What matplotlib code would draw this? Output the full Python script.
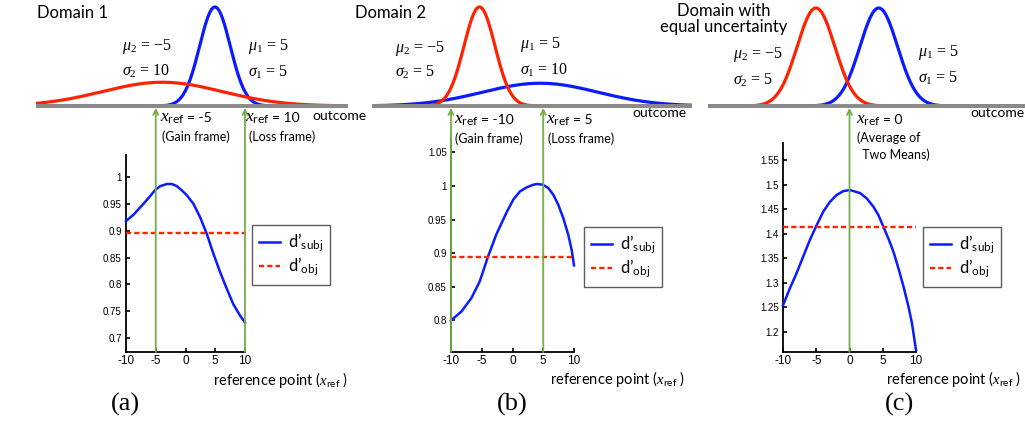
import numpy as np
import matplotlib
matplotlib.use('Agg')
import matplotlib.pyplot as plt
import matplotlib.transforms as mtransforms

W, H = 1025, 421

# distributions drawn on top: mean, drawn width, relative peak height
mu_a = [5, -5]
width_a = [2.9, 11.4]
peak_a = [1.0, 0.24]
mu_b = [5, -5]
width_b = [9.5, 2.55]
peak_b = [0.23, 1.0]
mu_c = [5, -5]
width_c = [3.0, 3.0]
peak_c = [0.99, 0.99]

# reference points marked with arrows
xref_a = [-5, 10]
xref_b = [-10, 5]
xref_c = [0]

# d' curves
x_a = [-10, -8.72, -7.32, -6.2, -5.08, -4.25, -3.13, -2.29, -1.45, -0.61, 0.22,
       1.34, 2.46, 3.58, 4.69, 5.81, 6.93, 8.04, 9.16, 10]
dsubj_a = [0.918, 0.930, 0.947, 0.961, 0.976, 0.983, 0.987, 0.987, 0.983, 0.975, 0.966,
           0.950, 0.925, 0.894, 0.857, 0.823, 0.792, 0.763, 0.742, 0.729]
dobj_a = 0.895

x_b = [-10, -8.33, -6.70, -5.33, -3.98, -2.63, -0.95, 0.14, 1.22, 2.30, 3.39,
       4.04, 4.91, 5.83, 6.64, 7.45, 8.27, 9.08, 9.62, 10]
dsubj_b = [0.800, 0.813, 0.833, 0.858, 0.895, 0.928, 0.961, 0.980, 0.992, 0.998, 1.002,
           1.003, 1.002, 0.997, 0.987, 0.972, 0.952, 0.927, 0.905, 0.882]
dobj_b = 0.895

x_c = [-10, -8.99, -7.98, -6.98, -5.97, -4.96, -3.95, -2.95, -1.94, -0.93, 0.08,
       1.59, 2.6, 3.6, 4.35, 5.1, 5.86, 6.62, 7.37, 8.13, 8.88, 9.4, 10]
dsubj_c = [1.254, 1.288, 1.319, 1.353, 1.387, 1.417, 1.445, 1.465, 1.479, 1.487, 1.489,
           1.483, 1.472, 1.455, 1.438, 1.414, 1.390, 1.363, 1.329, 1.292, 1.251, 1.217, 1.163]
dobj_c = 1.413

xticks = [-10, -5, 0, 5, 10]
yticks_a = [0.7, 0.75, 0.8, 0.85, 0.9, 0.95, 1]
yticks_b = [0.8, 0.85, 0.9, 0.95, 1, 1.05]
yticks_c = [1.2, 1.25, 1.3, 1.35, 1.4, 1.45, 1.5, 1.55]

BLUE = '#0a1cff'
RED = '#ff2200'
GRAY = '#8a8a8a'
GREEN = '#72ad47'

plt.rcParams['mathtext.fontset'] = 'custom'
plt.rcParams['mathtext.rm'] = 'Liberation Serif'
plt.rcParams['mathtext.it'] = 'Liberation Serif:italic'
plt.rcParams['mathtext.bf'] = 'Liberation Serif:bold'
plt.rcParams['mathtext.sf'] = 'Lato'
plt.rcParams['font.family'] = ['Lato', 'DejaVu Sans']

fig = plt.figure(figsize=(W / 100, H / 100), dpi=100)


def box(x0, y0, x1, y1):
    # pixel box (top-left origin) -> figure fraction rect
    return [x0 / W, 1 - y1 / H, (x1 - x0) / W, (y1 - y0) / H]


def ftext(x, y, s, **kw):
    fig.text(x / W, 1 - y / H, s, **kw)


def top_panel(px, xlim, mus, widths, peaks, colors):
    ax = fig.add_axes(box(px[0], 7, px[1], 106))
    ax.set_xlim(xlim)
    ax.set_ylim(0, 1)
    ax.axis('off')
    xs = np.linspace(xlim[0], xlim[1], 500)
    for m, s, p, c in zip(mus, widths, peaks, colors):
        ax.plot(xs, p * np.exp(-0.5 * ((xs - m) / s) ** 2), color=c, lw=2.3,
                clip_on=False, zorder=2, solid_capstyle='butt')
    ax.plot(xlim, [0, 0], color=GRAY, lw=2.8, clip_on=False, zorder=3,
            solid_capstyle='butt')
    return ax


def bottom_panel(px, ylim, x, dsubj, dobj, yticks):
    ax = fig.add_axes(box(px[0], px[1], px[2], 352))
    ax.plot(x, dsubj, color=BLUE, lw=1.8, label='d’$_{\\mathsf{subj}}$',
            clip_on=False, zorder=3)
    ax.plot([-10, 10], [dobj, dobj], color=RED, lw=1.7, ls=(0, (2.2, 1.3)),
            label='d’$_{\\mathsf{obj}}$', zorder=3)
    ax.set_xlim(-10, 10)
    ax.set_ylim(ylim)
    ax.set_xticks(xticks)
    ax.set_xticklabels(['%g' % v for v in xticks])
    ax.set_yticks(yticks)
    ax.set_yticklabels(['%g' % v for v in yticks])
    for sp in ['top', 'right']:
        ax.spines[sp].set_visible(False)
    for sp in ['left', 'bottom']:
        ax.spines[sp].set_linewidth(1.3)
    ax.tick_params(direction='in', length=3, width=1.2)
    ax.tick_params(axis='y', labelsize=7, pad=3)
    ax.tick_params(axis='x', labelsize=8.5, pad=2)
    for lab in ax.get_xticklabels() + ax.get_yticklabels():
        lab.set_fontfamily('Liberation Sans')
    ax.patch.set_alpha(0)
    return ax


def arrows(ax_bot, ax_top, xrefs):
    trans = mtransforms.blended_transform_factory(ax_bot.transData, ax_top.transData)
    y0 = ax_bot.get_ylim()[0]
    for xr in xrefs:
        ax_bot.annotate('', xy=(xr, -0.02), xycoords=trans, xytext=(xr, y0),
                        textcoords='data', annotation_clip=False,
                        arrowprops=dict(arrowstyle='->', color=GREEN, lw=1.3,
                                        shrinkA=0, shrinkB=0, mutation_scale=9))


def legend(ax, x0, y0):
    lg = ax.legend(loc='upper left', bbox_to_anchor=(x0 / W, 1 - y0 / H),
                   bbox_transform=fig.transFigure, fontsize=12, frameon=True,
                   fancybox=False, edgecolor='#333333', handlelength=1.25,
                   handletextpad=0.5, borderpad=0.4, labelspacing=0.1,
                   borderaxespad=0)
    lg.get_frame().set_linewidth(1.0)


# ---- panel (a)
ta = top_panel((36, 348), (-28.96, 30.25), mu_a, width_a, peak_a, [BLUE, RED])
ba = bottom_panel((126, 155, 245), (0.674, 1.041), x_a, dsubj_a, dobj_a, yticks_a)
arrows(ba, ta, xref_a)
legend(ba, 252, 225)

# ---- panel (b)
tb = top_panel((372, 692), (-22.7, 30.0), mu_b, width_b, peak_b, [BLUE, RED])
bb = bottom_panel((451, 139, 574), (0.753, 1.070), x_b, dsubj_b, dobj_b, yticks_b)
arrows(bb, tb, xref_b)
legend(bb, 584, 227)

# ---- panel (c)
tc = top_panel((708, 1025), (-22.2, 28.3), mu_c, width_c, peak_c, [BLUE, RED])
bc = bottom_panel((783, 143, 916), (1.159, 1.585), x_c, dsubj_c, dobj_c, yticks_c)
arrows(bc, tc, xref_c)
legend(bc, 923, 227)

# ---- texts
tkw = dict(fontsize=12, va='center', ha='left')
ftext(37, 13, 'Domain 1', **tkw)
ftext(355, 13, 'Domain 2', **tkw)
ftext(724, 19, 'Domain with\nequal uncertainty', fontsize=12, va='center',
      ha='center', linespacing=0.95)

skw = dict(fontsize=11.5, va='center', ha='left', family='Liberation Serif')
ftext(122, 47, r'$\mu_2$ = −5', **skw)
ftext(122, 71, r'$\sigma_2$ = 10', **skw)
ftext(248, 47, r'$\mu_1$ = 5', **skw)
ftext(248, 72, r'$\sigma_1$ = 5', **skw)

ftext(395, 48, r'$\mu_2$ = −5', **skw)
ftext(395, 72, r'$\sigma_2$ = 5', **skw)
ftext(520, 45, r'$\mu_1$ = 5', **skw)
ftext(520, 70, r'$\sigma_1$ = 10', **skw)

ftext(733, 55, r'$\mu_2$ = −5', **skw)
ftext(733, 80, r'$\sigma_2$ = 5', **skw)
ftext(918, 53, r'$\mu_1$ = 5', **skw)
ftext(918, 78, r'$\sigma_1$ = 5', **skw)

okw = dict(fontsize=10, va='center', ha='left')
ftext(312, 116, 'outcome', **okw)
ftext(632, 113, 'outcome', **okw)
ftext(970, 113, 'outcome', **okw)

xkw = dict(fontsize=12.5, va='center', ha='left')
ekw = dict(fontsize=10, va='center', ha='left')
fkw = dict(fontsize=9, va='center', ha='left')


def xref_label(x, y, val):
    ftext(x, y, r'$x_{\mathsf{ref}}$', **xkw)
    ftext(x + 27, y, '= ' + val, **ekw)


xref_label(160, 118, '-5')
ftext(162, 137, '(Gain frame)', **fkw)
xref_label(245, 118, '10')
ftext(249, 137, '(Loss frame)', **fkw)

xref_label(454, 120, '-10')
ftext(455, 139, '(Gain frame)', **fkw)
xref_label(546, 120, '5')
ftext(548, 139, '(Loss frame)', **fkw)

xref_label(856, 120, '0')
ftext(857, 138, '(Average of', **fkw)
ftext(859, 155, ' Two Means)', **fkw)

rkw = dict(fontsize=10.5, va='center', ha='left')
ftext(213, 380, r'reference point ($x_{\mathsf{ref}}$ )', **rkw)
ftext(550, 379, r'reference point ($x_{\mathsf{ref}}$ )', **rkw)
ftext(886, 379, r'reference point ($x_{\mathsf{ref}}$ )', **rkw)

lkw = dict(fontsize=19, va='center', ha='center', family='Liberation Serif')
ftext(125, 404, '(a)', **lkw)
ftext(512, 404, '(b)', **lkw)
ftext(900, 404, '(c)', **lkw)

fig.savefig('out.png', dpi=100)
